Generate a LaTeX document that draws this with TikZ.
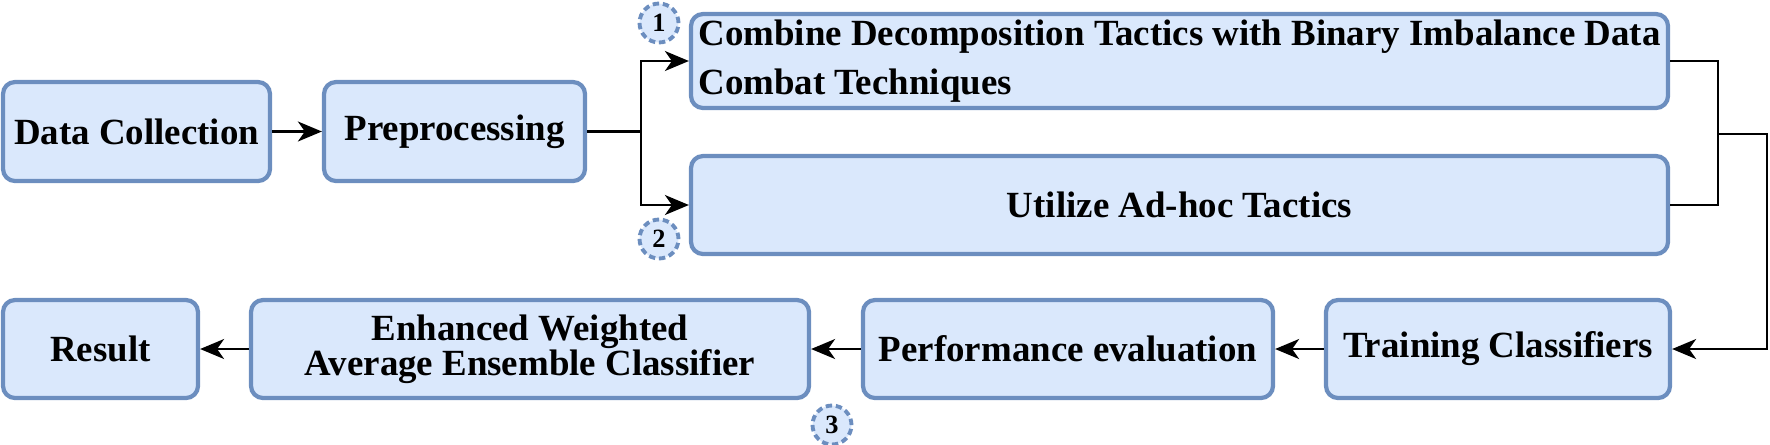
\documentclass[tikz,border=0pt]{standalone}
\usepackage{fontspec}
\setmainfont{Liberation Serif}
\usetikzlibrary{arrows.meta}
\definecolor{boxfill}{HTML}{DAE8FC}
\definecolor{boxline}{HTML}{6C8EBF}

\begin{document}
\begin{tikzpicture}[
  box/.style={draw=boxline, fill=boxfill, line width=1.2pt, rounded corners=1.2mm,
    font=\fontsize{10.5}{12}\selectfont\bfseries, align=center, inner sep=0pt},
  numcirc/.style={circle, draw=boxline, fill=boxfill, dash pattern=on 1.8pt off 1.1pt,
    line width=1.1pt, minimum size=3.9mm, inner sep=0pt, font=\fontsize{7.5}{8}\selectfont\bfseries},
  link/.style={line width=0.6pt},
  arr/.style={link, -{Stealth[length=2.4mm,width=2mm,inset=0.7mm]}}
]
\useasboundingbox (0,0) rectangle (17.7,-4.44);

% top row
\node[box, minimum width=2.67cm, minimum height=0.99cm] (dc) at (1.365,-1.315) {Data Collection};
\node[box, minimum width=2.61cm, minimum height=0.99cm] (pre) at (4.545,-1.315) {Preprocessing};
\node[box, minimum width=9.77cm, minimum height=0.94cm, align=left,
  font=\fontsize{10.5}{14}\selectfont\bfseries] (comb) at (11.795,-0.61)
  {Combine Decomposition Tactics with Binary Imbalance Data\\Combat Techniques};
\node[box, minimum width=9.77cm, minimum height=0.98cm] (util) at (11.795,-2.05) {Utilize Ad-hoc Tactics};

% bottom row
\node[box, minimum width=3.44cm, minimum height=0.98cm] (train) at (14.98,-3.49) {Training Classifiers};
\node[box, minimum width=4.10cm, minimum height=0.98cm] (perf) at (10.68,-3.49) {Performance evaluation};
\node[box, minimum width=5.58cm, minimum height=0.98cm,
  font=\fontsize{10.5}{10}\selectfont\bfseries] (ewae) at (5.30,-3.49) {Enhanced Weighted\\Average Ensemble Classifier};
\node[box, minimum width=1.95cm, minimum height=0.98cm] (res) at (1.005,-3.49) {Result};

% step numbers
\node[numcirc] (n1) at (6.59,-0.23) {1};
\node[numcirc] (n2) at (6.59,-2.39) {2};
\node[numcirc] (n3) at (8.32,-4.25) {3};

% connectors
\coordinate (fork) at (6.41,-1.315);
\coordinate (join) at (17.18,-1.34);
\coordinate (rt) at (17.67,-1.34);

\draw[arr] (dc) -- (pre);
\draw[link] (pre.east) -- (fork);
\draw[arr] (fork) |- (comb.west);
\draw[arr] (fork) |- (util.west);
\draw[link] (comb.east) -| (join);
\draw[link] (util.east) -| (join);
\draw[arr] (join) -- (rt) |- (train.east);
\draw[arr] (train) -- (perf);
\draw[arr] (perf) -- (ewae);
\draw[arr] (ewae) -- (res);
\end{tikzpicture}
\end{document}
